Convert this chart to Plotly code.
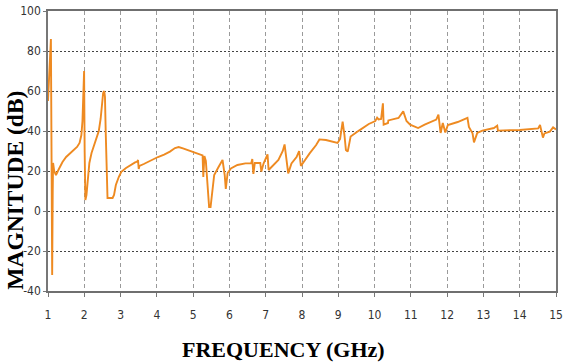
import plotly.graph_objects as go

freq_ghz = [1.0, 1.05, 1.08, 1.10, 1.115, 1.13, 1.14, 1.17, 1.22, 1.3, 1.4, 1.5, 1.6, 1.7, 1.8, 1.87, 1.92,
            1.95, 1.97, 1.995, 2.01, 2.03, 2.06, 2.1, 2.14, 2.2, 2.26, 2.33, 2.4, 2.45, 2.49, 2.52, 2.55, 2.57,
            2.59, 2.62, 2.64, 2.7, 2.78, 2.82, 2.87, 2.95, 3.02, 3.15, 3.27, 3.4, 3.46, 3.48, 3.5, 3.52, 3.64,
            3.8, 4.03, 4.2, 4.36, 4.5, 4.6, 4.72, 4.85, 5.0, 5.15, 5.22, 5.26, 5.28, 5.31, 5.35, 5.40, 5.44,
            5.48, 5.52, 5.58, 5.7, 5.81, 5.87, 5.9, 5.95, 6.04, 6.22, 6.44, 6.6, 6.63, 6.66, 6.7, 6.85, 6.88,
            6.94, 7.05, 7.08, 7.22, 7.35, 7.47, 7.52, 7.62, 7.71, 7.85, 7.92, 7.97, 8.03, 8.21, 8.39, 8.48,
            8.66, 8.98, 9.05, 9.12, 9.17, 9.21, 9.26, 9.34, 9.57, 9.84, 10.02, 10.07, 10.11, 10.18, 10.23,
            10.25, 10.37, 10.38, 10.66, 10.79, 10.88, 10.98, 11.2, 11.38, 11.70, 11.76, 11.82, 11.88, 11.95,
            12.02, 12.29, 12.56, 12.6, 12.70, 12.74, 12.83, 12.97, 13.29, 13.38, 13.40, 14.0, 14.51, 14.56,
            14.64, 14.68, 14.83, 14.92, 15.0]
magnitude_db = [55, 75, 86, 20, -32, 10, 24, 20, 18, 21, 24.5, 27, 28.8, 30.3, 32, 34, 38,
                45, 56, 70, 30, 5.5, 8, 17, 24, 29, 32, 35.5, 40, 46, 54, 59, 60, 57,
                40, 10, 6.5, 6.5, 6.5, 8, 13, 17, 19.6, 21.5, 23, 24.3, 24.7, 25.5, 21, 22.5, 23.5,
                25, 27, 28.2, 29.7, 31.5, 32, 31.3, 30.5, 29.7, 28.5, 28, 27.8, 17, 27.5, 25, 10, 2,
                2, 10, 18, 22, 25.5, 18, 11, 19, 21.3, 23, 23.8, 23.8, 26, 18.5, 24, 24, 19.7,
                23.7, 28.3, 20.5, 23, 25.5, 30, 33.3, 18.8, 23.8, 27, 30, 22.5, 24.2, 28.8, 33, 35.8,
                35.5, 34, 36, 44.7, 38, 30.5, 29.7, 37.2, 40.2, 43.5, 45, 46.7, 45.8, 46, 53.8,
                43.2, 44, 45.3, 46.5, 49.8, 45, 43.2, 41.5, 43.2, 45.7, 48.2, 39, 44, 39.3,
                43, 44.5, 46.6, 42, 38.8, 34.3, 39, 40.2, 41.5, 42.7, 40.2, 40.5, 41.3, 43,
                36.7, 38.8, 39.7, 41.8, 40.8]

x_ticks = list(range(1, 16))
y_ticks = list(range(-40, 101, 20))

tick_font = dict(family="DejaVu Sans Condensed, Liberation Sans Narrow, sans-serif",
                 size=12, color="#333333")
title_font = dict(family="Liberation Serif, Times New Roman, serif", color="#000000")

fig = go.Figure()
fig.add_trace(go.Scatter(x=freq_ghz, y=magnitude_db, mode="lines",
                         line=dict(color="#EE8A21", width=1.9), showlegend=False))

fig.update_layout(
    width=566, height=363,
    margin=dict(l=48, r=3, t=11, b=72),
    paper_bgcolor="white", plot_bgcolor="white",
    xaxis=dict(range=[1, 15], tickvals=x_ticks, ticktext=[str(v) for v in x_ticks],
               showgrid=True, gridcolor="#9a9a9a", griddash="4px,3px", gridwidth=1,
               showline=True, linecolor="#6f6f6f", linewidth=1.5, mirror=True,
               ticks="outside", ticklen=4, tickcolor="#777777",
               tickfont=tick_font, ticklabelstandoff=8, ticklabeloverflow="allow",
               zeroline=False),
    yaxis=dict(range=[-40, 100], tickvals=y_ticks, ticktext=[str(v) for v in y_ticks],
               showgrid=True, gridcolor="#444444", griddash="2px,2px", gridwidth=1,
               showline=True, linecolor="#777777", linewidth=1.5, mirror=True,
               ticks="outside", ticklen=3, tickcolor="#777777",
               tickfont=tick_font, ticklabeloverflow="allow", zeroline=False),
    annotations=[
        dict(text="<b>MAGNITUDE (dB)</b>", xref="paper", yref="paper",
             x=-0.064, y=0.36, textangle=-90, showarrow=False,
             xanchor="center", yanchor="middle", font=dict(size=23.5, **title_font)),
        dict(text="<b>FREQUENCY (GHz)</b>", xref="paper", yref="paper",
             x=(287 - 48) / 515, y=(291 - 349) / 280, showarrow=False,
             xanchor="center", yanchor="middle", font=dict(size=22, **title_font)),
    ],
)

fig.write_html("out.html")
